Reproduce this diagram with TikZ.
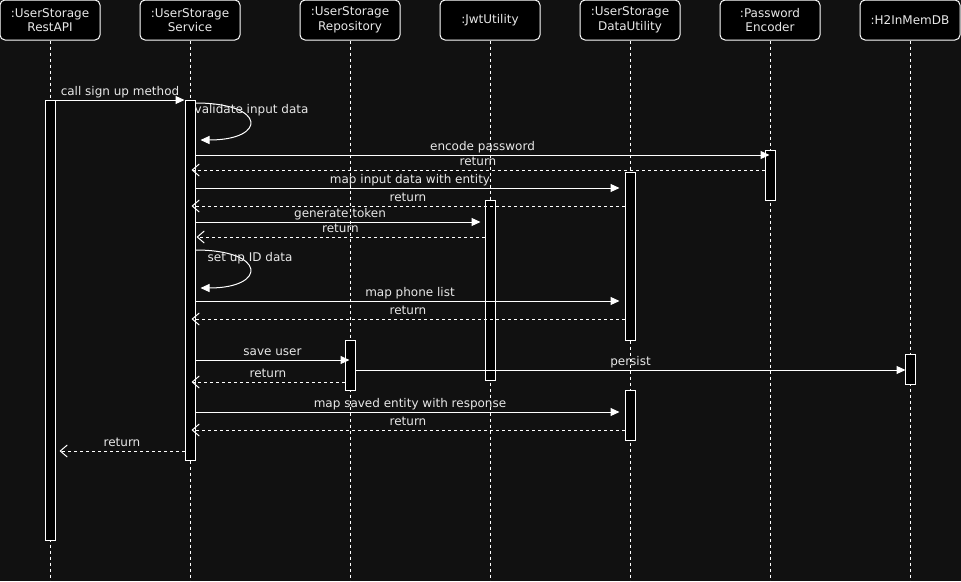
\documentclass[tikz,border=0pt]{standalone}
\usepackage{fontspec}
\setmainfont{DejaVu Sans}
\usetikzlibrary{arrows.meta}
\definecolor{bg}{HTML}{111111}
\definecolor{ink}{HTML}{E8E8E8}

\begin{document}
\begin{tikzpicture}[x=1pt,y=-1pt,
  hdr/.style={draw=white, fill=black, rounded corners=5pt, minimum width=100pt,
    minimum height=40pt, inner sep=0pt, align=center, text=ink,
    font=\fontsize{12}{14.5}\selectfont, line width=1pt},
  act/.style={draw=white, fill=black, minimum width=10pt, inner sep=0pt, line width=1pt},
  life/.style={draw=white, dash pattern=on 3pt off 3pt, line width=1pt},
  msg/.style={draw=white, line width=1pt, -{Triangle[length=9pt,width=8pt]}},
  ret/.style={draw=white, line width=1pt, dash pattern=on 3pt off 3pt,
    -{Straight Barb[length=7pt,width=12pt]}},
  lbl/.style={text=ink, font=\fontsize{12}{14}\selectfont, inner sep=0pt, anchor=base},
  mlbl/.style={lbl, midway, yshift=5pt}
]
% canvas
\fill[bg] (0,0) rectangle (961,581);
\useasboundingbox (0,0) rectangle (961,581);

% participants
\node[hdr] (rest) at (50,20)  {:UserStorage\\RestAPI};
\node[hdr] (serv) at (190,20) {:UserStorage\\Service};
\node[hdr] (repo) at (350,20) {:UserStorage\\Repository};
\node[hdr] (jwt)  at (490,20) {:JwtUtility};
\node[hdr] (data) at (630,20) {:UserStorage\\DataUtility};
\node[hdr] (pwd)  at (770,20) {:Password\\Encoder};
\node[hdr] (db)   at (910,20) {:H2InMemDB};

% lifeline ends
\foreach \n/\x in {rest/50,serv/190,repo/350,jwt/490,data/630,pwd/770,db/910}
  \coordinate (\n End) at (\x,581);
\foreach \n in {rest,serv,repo,jwt,data,pwd,db}
  \draw[life] (\n.south) -- (\n End);

% activation bars
\node[act, minimum height=440pt] (aRest)  at (50,320)  {};
\node[act, minimum height=360pt] (aServ)  at (190,280) {};
\node[act, minimum height=50pt]  (aPwd)   at (770,175) {};
\node[act, minimum height=168pt] (aData1) at (630,256) {};
\node[act, minimum height=180pt] (aJwt)   at (490,290) {};
\node[act, minimum height=50pt]  (aRepo)  at (350,365) {};
\node[act, minimum height=30pt]  (aDb)    at (910,369) {};
\node[act, minimum height=50pt]  (aData2) at (630,415) {};

% messages
\draw[msg] (aRest.east |- 0,100) -- (aServ.west |- 0,100)
  node[mlbl] {call sign up method};

\draw[msg] (aServ.east |- 0,103) .. controls (267,103) and (267,140) .. ([xshift=5pt]aServ.east |- 0,140);
\node[lbl, anchor=base west] (tValidate) at ([xshift=-1pt]aServ.east |- 0,113) {validate input data};

\draw[msg] (aServ.east |- 0,155) -- ([xshift=5pt]aPwd.west |- 0,155)
  node[mlbl] {encode password};
\draw[ret] (aPwd.west |- 0,170) -- ([xshift=-4pt]aServ.east |- 0,170)
  node[mlbl] {return};

\draw[msg, shorten >=5pt] (aServ.east |- 0,188) -- (aData1.west |- 0,188)
  node[mlbl] {map input data with entity};
\draw[ret] (aData1.west |- 0,206) -- ([xshift=-4pt]aServ.east |- 0,206)
  node[mlbl] {return};

\draw[msg, shorten >=4pt] (aServ.east |- 0,222) -- (aJwt.west |- 0,222)
  node[mlbl] {generate token};
\draw[ret] (aJwt.west |- 0,237) -- ([xshift=1pt]aServ.east |- 0,237)
  node[mlbl] {return};

\draw[msg] (aServ.east |- 0,250) .. controls (267,250) and (267,288) .. ([xshift=5pt]aServ.east |- 0,288);
\node[lbl, anchor=base west] (tSetup) at ([xshift=12pt]aServ.east |- 0,261) {set up ID data};

\draw[msg, shorten >=5pt] (aServ.east |- 0,301) -- (aData1.west |- 0,301)
  node[mlbl] {map phone list};
\draw[ret] (aData1.west |- 0,319) -- ([xshift=-4pt]aServ.east |- 0,319)
  node[mlbl] {return};

\draw[msg] (aServ.east |- 0,360) -- ([xshift=5pt]aRepo.west |- 0,360)
  node[mlbl] {save user};
\draw[ret] (aRepo.west |- 0,382) -- ([xshift=-4pt]aServ.east |- 0,382)
  node[mlbl] {return};

\draw[msg] (aRepo.east |- 0,370) -- ([xshift=1pt]aDb.west |- 0,370)
  node[mlbl] {persist};

\draw[msg, shorten >=5pt] (aServ.east |- 0,412) -- (aData2.west |- 0,412)
  node[mlbl] {map saved entity with response};
\draw[ret] (aData2.west |- 0,430) -- ([xshift=-4pt]aServ.east |- 0,430)
  node[mlbl] {return};

\draw[ret] (aServ.west |- 0,451) -- ([xshift=4pt]aRest.east |- 0,451)
  node[mlbl] {return};
\end{tikzpicture}
\end{document}
